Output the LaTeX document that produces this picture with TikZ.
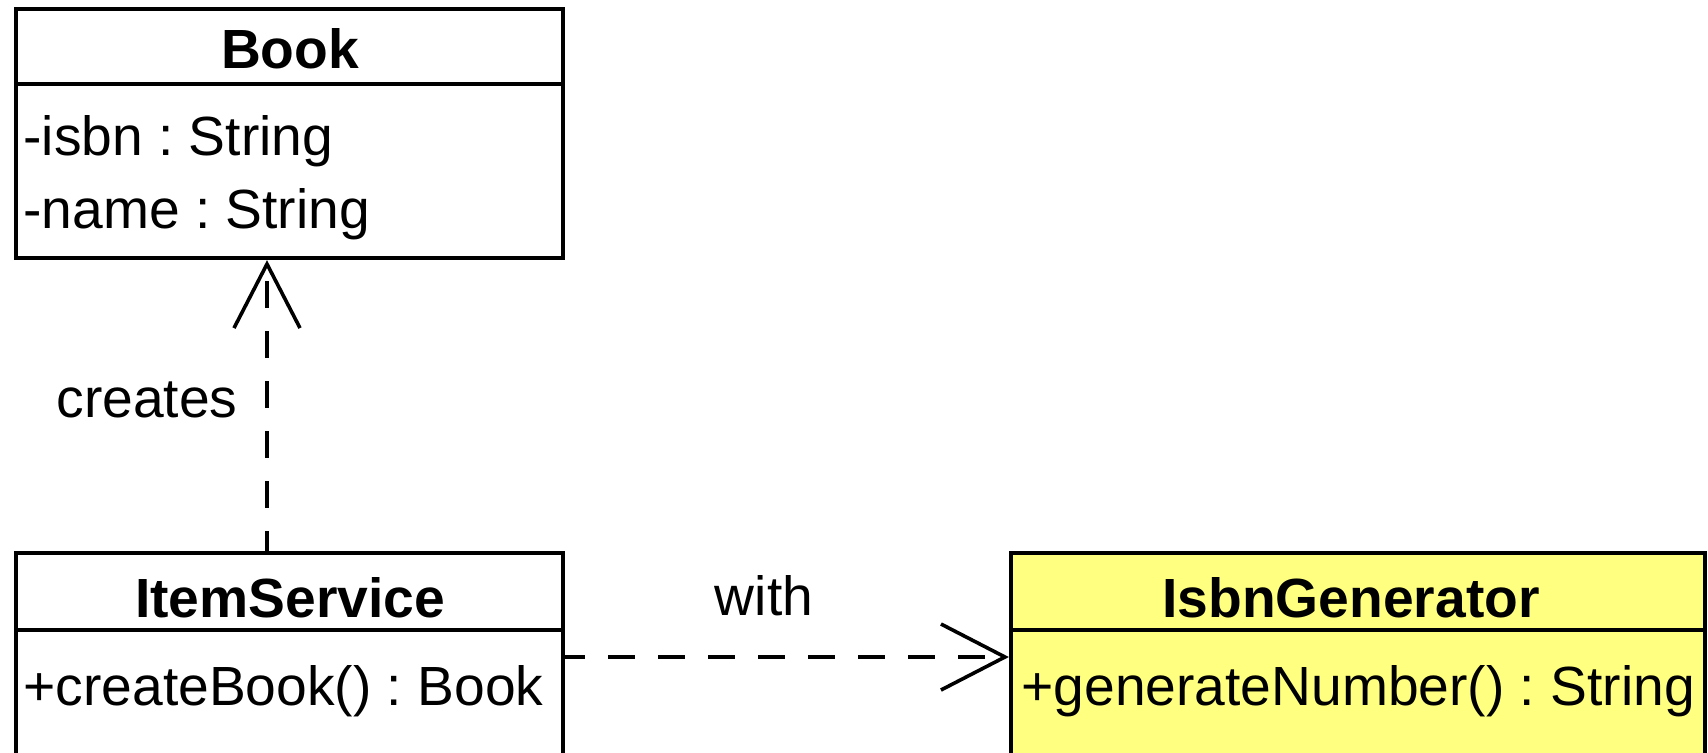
\documentclass[tikz,border=0pt]{standalone}
\usepackage{fontspec}
\setmainfont{Liberation Sans}
\usetikzlibrary{arrows.meta}

\definecolor{classyellow}{RGB}{255,255,128}

\newcommand{\umltext}{\fontsize{27.6}{32}\selectfont\frenchspacing}

\tikzset{
  classbox/.style={draw=black, line width=2.1pt, fill=white, inner sep=0pt, rectangle},
  sepline/.style={draw=black, line width=2.1pt},
  classname/.style={anchor=base, inner sep=0pt, font=\umltext\bfseries},
  member/.style={anchor=base west, inner sep=0pt, font=\umltext},
  linklabel/.style={anchor=base, inner sep=0pt, font=\umltext},
  dependency/.style={line width=1.8pt, dash pattern=on 13.5pt off 11.5pt, dash phase=3.5pt,
    -{Straight Barb[length=32pt, width=33pt, line width=1.8pt]}},
}

\begin{document}
\begin{tikzpicture}[x=0.5pt, y=-0.5pt]
  % canvas, 1708 x 752 units
  \clip (0,0) rectangle (1708,752);
  \fill[white] (0,0) rectangle (1708,752);

  % Book
  \node[classbox, minimum width=273.5pt, minimum height=124.5pt] (book) at (289.5,133.5) {};
  \coordinate (booksep) at (0,84);
  \draw[sepline] (book.west |- booksep) -- (book.east |- booksep);
  \node[classname] (booktitle) at (290,68) {Book};
  \node[member] (isbn) at (23,155) {-isbn : String};
  \node[member] (name) at (23,228) {-name : String};

  % ItemService
  \node[classbox, minimum width=273.5pt, minimum height=123.5pt] (item) at (289.5,676.5) {};
  \coordinate (itemsep) at (0,630);
  \draw[sepline] (item.west |- itemsep) -- (item.east |- itemsep);
  \node[classname] (itemtitle) at (290,617) {ItemService};
  \node[member] (createbook) at (23,705) {+createBook() : Book};

  % IsbnGenerator
  \node[classbox, fill=classyellow, minimum width=347pt, minimum height=123.5pt] (isbngen) at (1358,676.5) {};
  \draw[sepline] (isbngen.west |- itemsep) -- (isbngen.east |- itemsep);
  \node[classname] (isbntitle) at (1351,617) {IsbnGenerator};
  \node[member] (gennum) at (1021,705) {+generateNumber() : String};

  % dependencies
  \coordinate (vx) at (267,0);
  \coordinate (hy) at (0,657);
  \draw[dependency] (item.north -| vx) -- (book.south -| vx);
  \draw[dependency] (item.east |- hy) -- (isbngen.west |- hy);

  \node[linklabel] (creates) at (147,417) {creates};
  \node[linklabel] (with) at (764,615) {with};
\end{tikzpicture}
\end{document}
